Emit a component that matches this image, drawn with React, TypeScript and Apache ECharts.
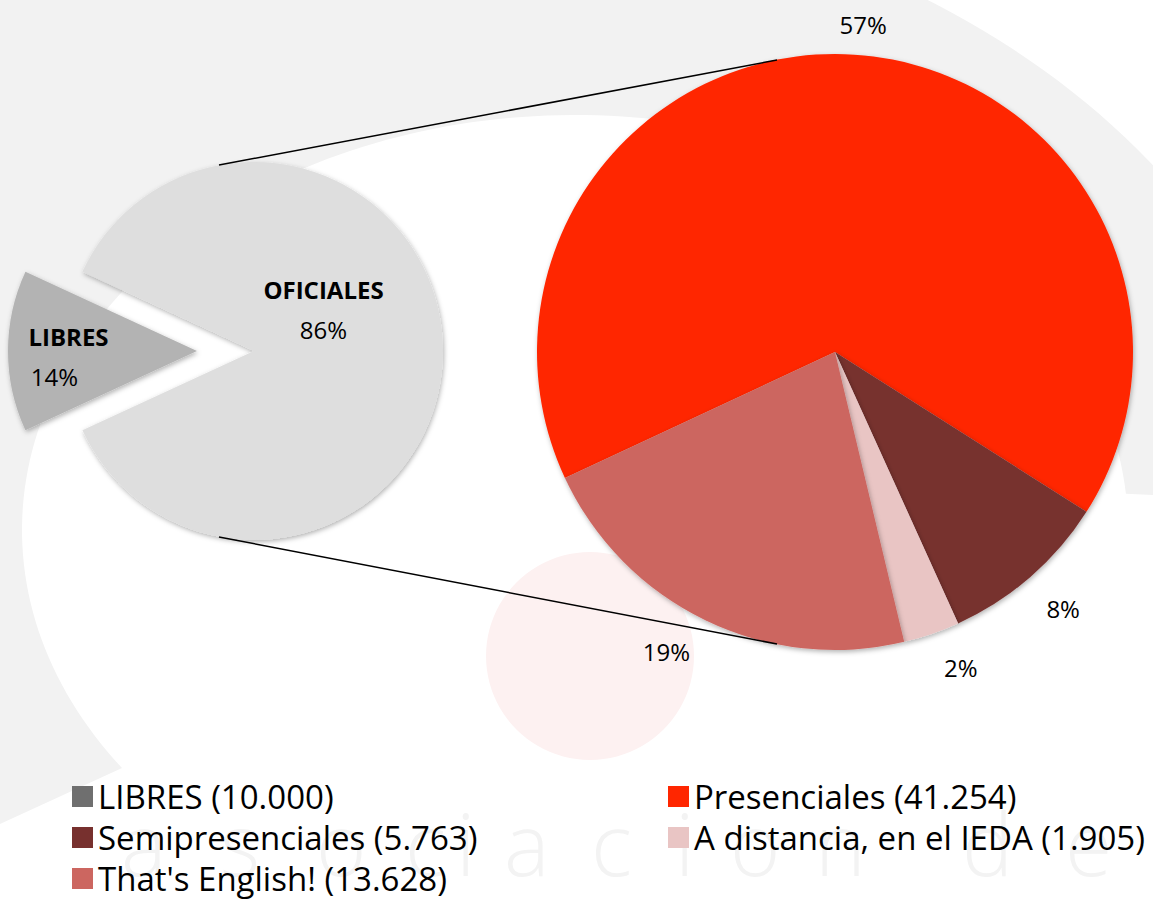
import React, { useEffect, useRef } from 'react';
import * as echarts from 'echarts';

// ---- Data ----
const mainCategories = ['LIBRES', 'OFICIALES'];
const mainValues = [10000, 62550];
const mainPctLabels = ['14%', '86%'];
const mainColors = ['#b3b3b3', '#dedede'];

const subCategories = ['Presenciales', 'Semipresenciales', 'A distancia, en el IEDA', "That's English!"];
const subValues = [41254, 5763, 1905, 13628];
const subPctLabels = ['57%', '8%', '2%', '19%'];
const subColors = ['#ff2600', '#77302e', '#e9c5c4', '#cc6660'];

const legendLeft = ['LIBRES', 'Semipresenciales', "That's English!"];
const legendRight = ['Presenciales', 'A distancia, en el IEDA'];
const libresLegendColor = '#6f6f6f';

// faint background watermark letters ("asociacion de")
const watermarkLetters = ['a', 's', 'o', 'c', 'i', 'a', 'c', 'i', 'o', 'n', 'd', 'e'];

const FONT = "'Open Sans', 'Noto Sans', sans-serif";

const fmtThousands = (v: number) => String(v).replace(/\B(?=(\d{3})+(?!\d))/g, '.');

const valueByName: Record<string, number> = {};
mainCategories.forEach((n, i) => (valueByName[n] = mainValues[i]));
subCategories.forEach((n, i) => (valueByName[n] = subValues[i]));

function ringPoints(
  inner: [number, number, number, number],
  outer: [number, number, number, number],
  t0: number,
  t1: number,
  n: number
) {
  const pts: number[][] = [];
  for (let i = 0; i <= n; i++) {
    const t = t0 + ((t1 - t0) * i) / n;
    pts.push([outer[0] + outer[2] * Math.cos(t), outer[1] + outer[3] * Math.sin(t)]);
  }
  for (let i = n; i >= 0; i--) {
    const t = t0 + ((t1 - t0) * i) / n;
    pts.push([inner[0] + inner[2] * Math.cos(t), inner[1] + inner[3] * Math.sin(t)]);
  }
  return pts;
}

const watermarkX = [121, 220, 316, 405, 456, 504, 591, 675, 730, 815, 962, 1065];

export default function App() {
  const ref = useRef<HTMLDivElement>(null);

  useEffect(() => {
    if (!ref.current) return;
    const chart = echarts.init(ref.current, undefined, { renderer: 'svg' });

    const total = mainValues.reduce((a, b) => a + b, 0);
    const libresSpan = (mainValues[0] / total) * 360;

    const shadow = {
      shadowBlur: 5,
      shadowOffsetX: 1,
      shadowOffsetY: 2,
      shadowColor: 'rgba(0,0,0,0.3)',
    };

    const legendFormatter = (name: string) => `${name} (${fmtThousands(valueByName[name])})`;
    const legendCommon = {
      orient: 'vertical',
      padding: 0,
      itemWidth: 21,
      itemHeight: 21,
      itemGap: 8,
      icon: 'rect',
      selectedMode: false,
      formatter: legendFormatter,
      textStyle: { fontSize: 33, color: '#000', fontFamily: FONT },
    };

    const option: any = {
      animation: false,
      backgroundColor: '#ffffff',
      textStyle: { fontFamily: FONT },
      graphic: [
        {
          type: 'polygon',
          silent: true,
          z: 0,
          shape: {
            points: ringPoints(
              [575, 530, 553, 415],
              [450, 560, 870, 670],
              (145 * Math.PI) / 180,
              (355 * Math.PI) / 180,
              160
            ),
          },
          style: { fill: '#f2f2f2' },
        },
        {
          type: 'circle',
          silent: true,
          z: 0,
          shape: { cx: 590, cy: 656, r: 104 },
          style: { fill: '#fdf1f1' },
        },
        ...watermarkLetters.map((ch, i) => ({
          type: 'text',
          silent: true,
          z: 0,
          style: {
            text: ch,
            x: watermarkX[i],
            y: 842,
            fill: '#f3f3f3',
            font: `300 86px ${FONT}`,
            textAlign: 'left',
            textVerticalAlign: 'middle',
          },
        })),
        {
          type: 'line',
          silent: true,
          z: 100,
          shape: { x1: 219, y1: 165, x2: 777, y2: 60 },
          style: { stroke: '#000', lineWidth: 1.5 },
        },
        {
          type: 'line',
          silent: true,
          z: 100,
          shape: { x1: 219, y1: 537, x2: 777, y2: 644 },
          style: { stroke: '#000', lineWidth: 1.5 },
        },
      ],
      legend: [
        {
          ...legendCommon,
          left: 72,
          top: 780,
          data: legendLeft.map((n) => (n === 'LIBRES' ? { name: n, itemStyle: { color: libresLegendColor } } : n)),
        },
        {
          ...legendCommon,
          left: 668,
          top: 780,
          data: legendRight,
        },
      ],
      series: [
        {
          type: 'pie',
          center: [254, 351],
          radius: 189,
          startAngle: 180 + libresSpan / 2,
          clockwise: true,
          selectedMode: 'single',
          selectedOffset: 57,
          avoidLabelOverlap: false,
          emphasis: { disabled: true },
          select: { itemStyle: { borderWidth: 0 } },
          itemStyle: { ...shadow },
          data: mainCategories.map((n, i) => ({
            name: n,
            value: mainValues[i],
            selected: i === 0,
            itemStyle: { color: mainColors[i] },
          })),
          label: {
            show: true,
            position: 'inside',
            formatter: (p: any) =>
              `{b|${p.name}}\n{${p.dataIndex === 0 ? 'q' : 'p'}|${mainPctLabels[p.dataIndex]}}`,
            rich: {
              b: { fontFamily: FONT, fontWeight: 'bold', fontSize: 24, color: '#000', lineHeight: 40 },
              p: { fontFamily: FONT, fontSize: 24, color: '#000', lineHeight: 40 },
              q: { fontFamily: FONT, fontSize: 24, color: '#000', lineHeight: 40, padding: [0, 28, 0, 0] },
            },
          },
          labelLine: { show: false },
          labelLayout: (p: any) => (p.dataIndex === 0 ? { dx: -31, dy: 5 } : { dx: -28, dy: -42 }),
        },
        {
          type: 'pie',
          center: [835, 352],
          radius: 298,
          startAngle: 205,
          clockwise: true,
          avoidLabelOverlap: false,
          emphasis: { disabled: true },
          itemStyle: { ...shadow },
          data: subCategories.map((n, i) => ({
            name: n,
            value: subValues[i],
            itemStyle: { color: subColors[i] },
          })),
          label: {
            show: true,
            position: 'outside',
            formatter: (p: any) => subPctLabels[p.dataIndex],
            fontFamily: FONT,
            fontSize: 24,
            color: '#000',
          },
          labelLine: { show: false, length: 35, length2: 0 },
          labelLayout: (p: any) =>
            [
              { dx: -22, dy: 5 },
              { dx: -12, dy: 5 },
              { dx: -4, dy: 0 },
              { dx: 5, dy: 0 },
            ][p.dataIndex],
        },
      ],
    };

    chart.setOption(option);
    return () => chart.dispose();
  }, []);

  return (
    <div
      style={{
        position: 'fixed',
        left: 0,
        top: 0,
        width: 1153,
        height: 899,
        overflow: 'hidden',
        background: '#fff',
      }}
    >
      <div ref={ref} style={{ width: 1153, height: 1000 }} />
    </div>
  );
}
